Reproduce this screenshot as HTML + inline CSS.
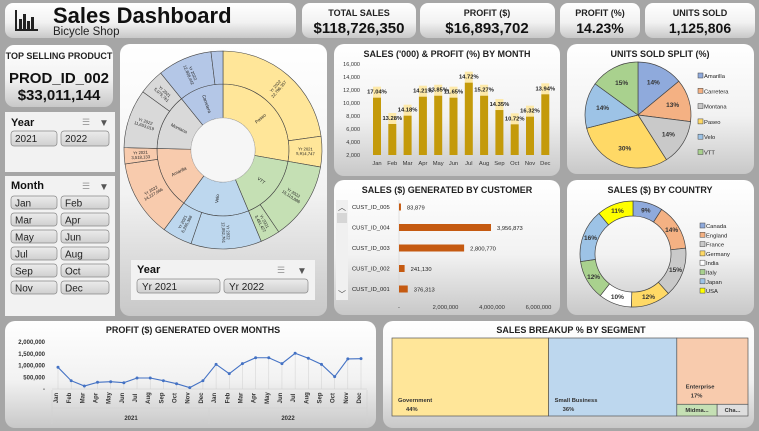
<!DOCTYPE html>
<html><head><meta charset="utf-8">
<style>
html,body{margin:0;padding:0;background:#a6a6a6;}
svg{display:block;font-family:"Liberation Sans",sans-serif;}
.t{font-weight:bold;font-size:9px;fill:#222;text-anchor:middle;}
</style></head>
<body>
<svg id="dash" width="759" height="431" viewBox="0 0 759 431" xmlns="http://www.w3.org/2000/svg">
<defs>
<linearGradient id="pg" x1="0" y1="0" x2="0" y2="1"><stop offset="0" stop-color="#ffffff"/><stop offset="0.55" stop-color="#f2f2f2"/><stop offset="1" stop-color="#c8c8c8"/></linearGradient>
<linearGradient id="bg2" x1="0" y1="0" x2="0" y2="1"><stop offset="0" stop-color="#ececec"/><stop offset="1" stop-color="#cfcfcf"/></linearGradient>
</defs>
<rect width="759" height="431" fill="#a6a6a6"/>
<!-- panels -->
<rect x="5" y="3" width="291" height="35" rx="8" fill="url(#pg)"/>
<rect x="302" y="3" width="114" height="35" rx="8" fill="url(#pg)"/>
<rect x="420" y="3" width="135" height="35" rx="8" fill="url(#pg)"/>
<rect x="560" y="3" width="80" height="35" rx="8" fill="url(#pg)"/>
<rect x="645" y="3" width="110" height="35" rx="8" fill="url(#pg)"/>
<rect x="5" y="45" width="108" height="62" rx="9" fill="url(#pg)"/>
<rect x="120" y="44" width="207" height="272" rx="10" fill="url(#pg)"/>
<rect x="334" y="44" width="226" height="132" rx="10" fill="url(#pg)"/>
<rect x="334" y="180" width="226" height="135" rx="10" fill="url(#pg)"/>
<rect x="567" y="44" width="187" height="130" rx="10" fill="url(#pg)"/>
<rect x="567" y="180" width="187" height="135" rx="10" fill="url(#pg)"/>
<rect x="5" y="321" width="371" height="107" rx="10" fill="url(#pg)"/>
<rect x="383" y="321" width="371" height="107" rx="10" fill="url(#pg)"/>

<!-- title -->
<g fill="#222">
<rect x="15" y="10" width="2" height="21"/><rect x="15" y="29" width="23" height="2"/>
<rect x="19" y="19" width="3" height="10"/><rect x="23" y="14" width="3" height="15"/><rect x="27" y="21" width="3" height="8"/><rect x="31" y="17" width="3" height="12"/>
</g>
<text x="53" y="23" font-size="22" font-weight="bold" fill="#111">Sales Dashboard</text>
<text x="53" y="35" font-size="11.5" fill="#222">Bicycle Shop</text>

<text class="t" x="359" y="16" font-size="9.5">TOTAL SALES</text>
<text x="359" y="33" font-size="15" font-weight="bold" text-anchor="middle" fill="#111">$118,726,350</text>
<text class="t" x="487" y="16" font-size="9.5">PROFIT ($)</text>
<text x="487" y="33" font-size="15" font-weight="bold" text-anchor="middle" fill="#111">$16,893,702</text>
<text class="t" x="600" y="16" font-size="9.5">PROFIT (%)</text>
<text x="600" y="33" font-size="14" font-weight="bold" text-anchor="middle" fill="#111">14.23%</text>
<text class="t" x="700" y="16" font-size="9.5">UNITS SOLD</text>
<text x="700" y="33" font-size="14" font-weight="bold" text-anchor="middle" fill="#111">1,125,806</text>

<text class="t" x="59" y="59" font-size="7.6">TOP SELLING PRODUCT</text>
<text x="59" y="83" font-size="15" font-weight="bold" text-anchor="middle" fill="#111">PROD_ID_002</text>
<text x="59" y="100" font-size="15" font-weight="bold" text-anchor="middle" fill="#111">$33,011,144</text>

<!-- year slicer -->
<g>
<rect x="5" y="112" width="110" height="60" fill="#f2f2f2"/>
<text x="11" y="126" font-size="11" font-weight="bold" fill="#111">Year</text>
<text x="82" y="125" font-size="9" fill="#999">☰</text>
<text x="99" y="126" font-size="10" fill="#555">▼</text>
<g><rect x="11" y="131" width="46" height="15" rx="3" fill="url(#bg2)" stroke="#888" stroke-width="0.7"/><text x="15" y="142" font-size="10" fill="#222">2021</text></g>
<g><rect x="61" y="131" width="48" height="15" rx="3" fill="url(#bg2)" stroke="#888" stroke-width="0.7"/><text x="65" y="142" font-size="10" fill="#222">2022</text></g>
</g>
<!-- month slicer -->
<g id="monthSlicer">
<rect x="5" y="176" width="110" height="140" fill="#f2f2f2"/>
<text x="11" y="189" font-size="11" font-weight="bold" fill="#111">Month</text>
<text x="82" y="189" font-size="9" fill="#999">☰</text>
<text x="99" y="190" font-size="10" fill="#555">▼</text>
</g>
<!-- sunburst year slicer -->
<g>
<rect x="131" y="260" width="184" height="40" fill="#f2f2f2"/>
<text x="137" y="273" font-size="11" font-weight="bold" fill="#111">Year</text>
<text x="277" y="273" font-size="9" fill="#999">☰</text>
<text x="297" y="274" font-size="10" fill="#555">▼</text>
<g><rect x="137" y="279" width="83" height="14" rx="3" fill="url(#bg2)" stroke="#888" stroke-width="0.7"/><text x="142" y="290" font-size="10" fill="#222">Yr 2021</text></g>
<g><rect x="224" y="279" width="84" height="14" rx="3" fill="url(#bg2)" stroke="#888" stroke-width="0.7"/><text x="229" y="290" font-size="10" fill="#222">Yr 2022</text></g>
</g>

<g id="sunburst"></g>

<text class="t" x="447" y="57" font-size="8.5">SALES ('000) &amp; PROFIT (%) BY MONTH</text>
<g id="barChart"></g>

<text class="t" x="447" y="193" font-size="8.5">SALES ($) GENERATED BY CUSTOMER</text>
<g>
<rect x="336" y="200" width="12" height="100" fill="#f0f0f0"/>
<rect x="337" y="213" width="10" height="10" fill="#d6d6d6"/>
<text x="342" y="210" font-size="8" text-anchor="middle" fill="#444">︿</text>
<text x="342" y="297" font-size="8" text-anchor="middle" fill="#444">﹀</text>
</g>
<g id="custChart"></g>

<text class="t" x="660" y="57" font-size="8.5">UNITS SOLD SPLIT (%)</text>
<g id="unitsPie"></g>

<text class="t" x="660" y="193" font-size="8.5">SALES ($) BY COUNTRY</text>
<g id="countryDonut"></g>

<text class="t" x="193" y="333" font-size="8.5">PROFIT ($) GENERATED OVER MONTHS</text>
<g id="lineChart"></g>

<text class="t" x="571" y="333" font-size="8.5">SALES BREAKUP % BY SEGMENT</text>
<g id="treemap"></g>
</svg>
<script>
const NS='http://www.w3.org/2000/svg';
function mk(parent,tag,attrs,txt){const e=document.createElementNS(NS,tag);for(const k in attrs)e.setAttribute(k,attrs[k]);if(txt!==undefined)e.textContent=txt;parent.appendChild(e);return e;}

// ---- data ----
const monthNames=['Jan','Feb','Mar','Apr','May','Jun','Jul','Aug','Sep','Oct','Nov','Dec'];
const monthlySales=[10820,6770,8050,10970,11120,10820,13130,11120,8920,6720,7900,11340];
const monthlyProfitPct=['17.04%','13.28%','14.18%','14.21%','13.85%','11.65%','14.72%','15.27%','14.35%','10.72%','16.32%','13.94%'];
const barTicks=[2000,4000,6000,8000,10000,12000,14000,16000];

const customers=['CUST_ID_005','CUST_ID_004','CUST_ID_003','CUST_ID_002','CUST_ID_001'];
const customerSales=[83879,3956873,2800770,241130,376313];
const custTicks=[0,2000000,4000000,6000000];

const productNames=['Amarilla','Carretera','Montana','Paseo','Velo','VTT'];
const unitShares=[14,13,14,30,14,15];
const productColors=['#8faadc','#f4b183','#c9c9c9','#ffd966','#9dc3e6','#a9d18e'];

const countries=['Canada','England','France','Germany','India','Italy','Japan','USA'];
const countryShares=[9,14,15,12,10,12,16,11];
const countryColors=['#8faadc','#f4b183','#c9c9c9','#ffd966','#ffffff','#a9d18e','#9dc3e6','#ffff00'];

const profitMonths=['Jan','Feb','Mar','Apr','May','Jun','Jul','Aug','Sep','Oct','Nov','Dec','Jan','Feb','Mar','Apr','May','Jun','Jul','Aug','Sep','Oct','Nov','Dec'];
const profitValues=[923000,353000,128000,285000,311000,268000,468000,468000,353000,226000,57000,353000,1050000,652000,1080000,1330000,1330000,1080000,1520000,1310000,1050000,525000,1280000,1290000];
const profitTicks=[0,500000,1000000,1500000,2000000];
const profitTickLabels=['-','500,000','1,000,000','1,500,000','2,000,000'];
const profitYears=['2021','2022'];

const segments=['Government','Small Business','Enterprise','Midmarket','Channel Partners'];
const segmentShares=[44,36,17,1.7,1.3];
const segmentLabels=['Government','Small Business','Enterprise','Midma...','Cha...'];
const segmentColors=['#ffe699','#bdd7ee','#f8cbad','#c5e0b4','#dedede'];

const sbProducts=['Paseo','VTT','Velo','Amarilla','Montana','Carretera'];
const sbColors=['#ffe699','#c5e0b4','#bdd7ee','#f8cbad','#d9d9d9','#b4c7e7'];
const sb2022=[27000000,15110886,13700000,14950000,11400000,10550000];
const sb2021=[5914747,3790000,5800000,3130000,4950000,2300000];
const sb2022Labels=['22,796,357','15,110,886','12,052,761','14,227,666','11,653,019','12,808,442'];
const sb2021Labels=['5,914,747','3,481,427','6,265,368','3,518,133','5,075,761',''];

// month slicer buttons
const ms=document.getElementById('monthSlicer');
monthNames.forEach((m,i)=>{
  const g=mk(ms,'g',{});
  
  
  const x=i%2?61:11, y=196+Math.floor(i/2)*17;
  mk(g,'rect',{x:x,y:y,width:i%2?48:46,height:13,rx:3,fill:'url(#bg2)',stroke:'#888','stroke-width':0.7});
  mk(g,'text',{x:x+4,y:y+10.5,'font-size':10,fill:'#222'},m);
});

// ---- bar chart ----
(function(){
  const g=document.getElementById('barChart');
  const y=v=>155-(v-2000)/14000*91;
  const x=i=>377+i*15.3;
  barTicks.forEach(t=>{const e=mk(g,'text',{x:360,y:y(t)+2,'font-size':5.5,'text-anchor':'end',fill:'#333'},t.toLocaleString('en-US'));
    });
  monthlySales.forEach((v,i)=>{
    const lb=mk(g,'rect',{x:x(i)-4,y:y(v)-11,width:8,height:11,fill:'#fde9a9'});
    
    const b=mk(g,'rect',{x:x(i)-4,y:y(v),width:8,height:155-y(v),fill:'#c49a0a'});
    
    const t=mk(g,'text',{x:x(i),y:y(v)-4,'font-size':5.8,'font-weight':'bold','text-anchor':'middle',fill:'#222'},monthlyProfitPct[i]);
    
    const m=mk(g,'text',{x:x(i),y:165,'font-size':5.8,'text-anchor':'middle',fill:'#333'},monthNames[i]);
    
  });
})();

// ---- customer chart ----
(function(){
  const g=document.getElementById('custChart');
  const x=v=>399+v/2000000*46.5;
  const ax=mk(g,'line',{x1:399,y1:200,x2:399,y2:298,stroke:'#d0d0d0','stroke-width':0.6});
  
  customers.forEach((c,i)=>{
    const cy=207+i*20.5;
    const l=mk(g,'text',{x:352,y:cy+2,'font-size':5.8,fill:'#222'},c);
    
    const b=mk(g,'rect',{x:399,y:cy-3.5,width:Math.max(1,x(customerSales[i])-399),height:7,fill:'#c55a11'});
    
    const v=mk(g,'text',{x:x(customerSales[i])+6,y:cy+2.5,'font-size':5.8,fill:'#222'},customerSales[i].toLocaleString('en-US'));
    
  });
  custTicks.forEach(t=>{const e=mk(g,'text',{x:x(t),y:309,'font-size':5.8,'text-anchor':'middle',fill:'#333'},t===0?'-':t.toLocaleString('en-US'));
    });
})();

function pt(cx,cy,r,a){const rad=a*Math.PI/180;return [cx+r*Math.sin(rad),cy-r*Math.cos(rad)];}
function arcPath(cx,cy,r0,r1,a0,a1){
  const la=(a1-a0)>180?1:0;
  const p1=pt(cx,cy,r1,a0),p2=pt(cx,cy,r1,a1);
  if(r0<=0) return `M${cx},${cy}L${p1[0]},${p1[1]}A${r1},${r1} 0 ${la} 1 ${p2[0]},${p2[1]}Z`;
  const p3=pt(cx,cy,r0,a1),p4=pt(cx,cy,r0,a0);
  return `M${p1[0]},${p1[1]}A${r1},${r1} 0 ${la} 1 ${p2[0]},${p2[1]}L${p3[0]},${p3[1]}A${r0},${r0} 0 ${la} 0 ${p4[0]},${p4[1]}Z`;
}

// ---- sunburst ----
(function(){
  const g=document.getElementById('sunburst');
  const cx=223,cy=150,R0=32,R1=66,R2=99;
  let total=0;sbProducts.forEach((p,i)=>total+=sb2022[i]+sb2021[i]);
  let a=0;
  sbProducts.forEach((p,i)=>{
    const s=(sb2022[i]+sb2021[i])/total*360;
    const inner=mk(g,'path',{d:arcPath(cx,cy,R0,R1,a,a+s),fill:sbColors[i],stroke:'#444','stroke-width':0.6});
    
    const mid=a+s/2;const lp=pt(cx,cy,(R0+R1)/2,mid);
    let rot=mid-90; if(mid>180) rot=mid+90;
    const tl=mk(g,'text',{x:lp[0],y:lp[1]+1.5,'font-size':4.5,'text-anchor':'middle',fill:'#222',transform:`rotate(${rot} ${lp[0]} ${lp[1]})`},p);
    
    const s22=sb2022[i]/total*360, s21=sb2021[i]/total*360;
    [[s22,'Yr 2022',sb2022Labels[i],a],[s21,'Yr 2021',sb2021Labels[i],a+s22]].forEach(([ss,yl,vl,st],k)=>{
      const o=mk(g,'path',{d:arcPath(cx,cy,R1,R2,st,st+ss),fill:sbColors[i],stroke:'#444','stroke-width':0.6});
      
      if(vl){const m=st+ss/2;const q=pt(cx,cy,(R1+R2)/2,m);let r2=m<180?m-90:m+90;
        const t=mk(g,'text',{x:q[0],y:q[1],'font-size':4.2,'text-anchor':'middle',fill:'#222',transform:`rotate(${r2} ${q[0]} ${q[1]})`});
        
        mk(t,'tspan',{x:q[0],dy:'-0.2em'},yl);mk(t,'tspan',{x:q[0],dy:'1.1em'},vl);}
    });
    a+=s;
  });
  const hole=mk(g,'circle',{cx:cx,cy:cy,r:R0,fill:'#f6f6f6',stroke:'#ccc','stroke-width':0.5});
  
})();

// ---- units pie ----
(function(){
  const g=document.getElementById('unitsPie');
  const cx=638,cy=115,r=53;let tot=unitShares.reduce((s,v)=>s+v,0);let a=0;
  unitShares.forEach((v,i)=>{
    const s=v/tot*360;
    const p=mk(g,'path',{d:arcPath(cx,cy,0,r,a,a+s),fill:productColors[i],stroke:'#444','stroke-width':0.7});
    
    const q=pt(cx,cy,r*0.68,a+s/2);
    const t=mk(g,'text',{x:q[0],y:q[1]+2,'font-size':6.5,'font-weight':'bold','text-anchor':'middle',fill:'#333'},v+'%');
    
    const ly=76+i*15.3;
    const lg=mk(g,'g',{});
    
    mk(lg,'rect',{x:698,y:ly-3,width:5,height:5,fill:productColors[i],stroke:'#444','stroke-width':0.5});
    mk(lg,'text',{x:704,y:ly+2,'font-size':5.8,fill:'#222'},productNames[i]);
    a+=s;
  });
})();

// ---- country donut ----
(function(){
  const g=document.getElementById('countryDonut');
  const cx=633,cy=254,r0=38,r1=53;let tot=countryShares.reduce((s,v)=>s+v,0);let a=0;
  countryShares.forEach((v,i)=>{
    const s=v/tot*360;
    const p=mk(g,'path',{d:arcPath(cx,cy,r0,r1,a,a+s),fill:countryColors[i],stroke:'#444','stroke-width':0.7});
    
    const q=pt(cx,cy,(r0+r1)/2,a+s/2);
    const t=mk(g,'text',{x:q[0],y:q[1]+2,'font-size':6.5,'font-weight':'bold','text-anchor':'middle',fill:'#333'},v+'%');
    
    const ly=226+i*9.3;
    const lg=mk(g,'g',{});
    
    mk(lg,'rect',{x:700,y:ly-3,width:5,height:5,fill:countryColors[i],stroke:'#444','stroke-width':0.5});
    mk(lg,'text',{x:706,y:ly+2,'font-size':5.8,fill:'#222'},countries[i]);
    a+=s;
  });
})();

// ---- profit line ----
(function(){
  const g=document.getElementById('lineChart');
  const y=v=>389-v/2000000*47;
  const x=i=>58+i*(303/23);
  profitTicks.forEach((t,i)=>{const e=mk(g,'text',{x:45,y:y(t)+2,'font-size':6,'font-weight':'bold','text-anchor':'end',fill:'#333'},profitTickLabels[i]);
    });
  const base=mk(g,'line',{x1:52,y1:389,x2:367,y2:389,stroke:'#ccc','stroke-width':0.6});
  
  let d='';
  profitValues.forEach((v,i)=>{
    const dl=mk(g,'line',{x1:x(i),y1:y(v),x2:x(i),y2:389,stroke:'#d0d0d0','stroke-width':0.5});
    
    d+=(i?'L':'M')+x(i)+','+y(v);
  });
  const ln=mk(g,'path',{d:d,fill:'none',stroke:'#4472c4','stroke-width':1.1});
  
  profitValues.forEach((v,i)=>{
    const c=mk(g,'circle',{cx:x(i),cy:y(v),r:1.5,fill:'#4472c4'});
    
    const t=mk(g,'text',{x:x(i)+2,y:400,'font-size':6,'font-weight':'bold','text-anchor':'middle',fill:'#333',transform:`rotate(-90 ${x(i)} 400)`},profitMonths[i]);
    
  });
  [[52,408,367,408],[52,390,52,424],[209,408,209,424],[367,390,367,424]].forEach(l=>{
    const e=mk(g,'line',{x1:l[0],y1:l[1],x2:l[2],y2:l[3],stroke:'#d0d0d0','stroke-width':0.6});
    });
  profitYears.forEach((yr,k)=>{const e=mk(g,'text',{x:k?288:131,y:420,'font-size':6,'font-weight':'bold','text-anchor':'middle',fill:'#333'},yr);
    });
})();

// ---- treemap ----
(function(){
  const g=document.getElementById('treemap');
  const X0=392,X1=748,Y0=338,Y1=416;const W=X1-X0,H=Y1-Y0;
  const tot=segmentShares.reduce((s,v)=>s+v,0);
  const w0=segmentShares[0]/tot*W, w1=segmentShares[1]/tot*W;
  const restX=X0+w0+w1, restW=X1-restX;
  const rest=segmentShares[2]+segmentShares[3]+segmentShares[4];
  const hE=segmentShares[2]/rest*H;
  const smallTot=segmentShares[3]+segmentShares[4];
  const wM=segmentShares[3]/smallTot*restW;
  const rects=[[X0,Y0,w0,H],[X0+w0,Y0,w1,H],[restX,Y0,restW,hE],[restX,Y0+hE,wM,H-hE],[restX+wM,Y0+hE,restW-wM,H-hE]];
  rects.forEach((r,i)=>{
    const e=mk(g,'rect',{x:r[0],y:r[1],width:r[2],height:r[3],fill:segmentColors[i],stroke:'#555','stroke-width':0.7});
    
  });
  const lab=[[X0+6,Y1-14],[X0+w0+6,Y1-14],[restX+9,Y0+hE-16]];
  lab.forEach((p,i)=>{
    const t=mk(g,'text',{x:p[0],y:p[1],'font-size':5.8,'font-weight':'bold',fill:'#333'},segmentLabels[i]);
    
    const v=mk(g,'text',{x:p[0]+(i==2?5:8),y:p[1]+9,'font-size':5.8,'font-weight':'bold',fill:'#333'},Math.round(segmentShares[i])+'%');
    
  });
  [3,4].forEach(i=>{const r=rects[i];
    const t=mk(g,'text',{x:r[0]+r[2]/2,y:r[1]+r[3]/2+2,'font-size':5.8,'font-weight':'bold','text-anchor':'middle',fill:'#333'},segmentLabels[i]);
    });
})();
</script>
</body></html>
